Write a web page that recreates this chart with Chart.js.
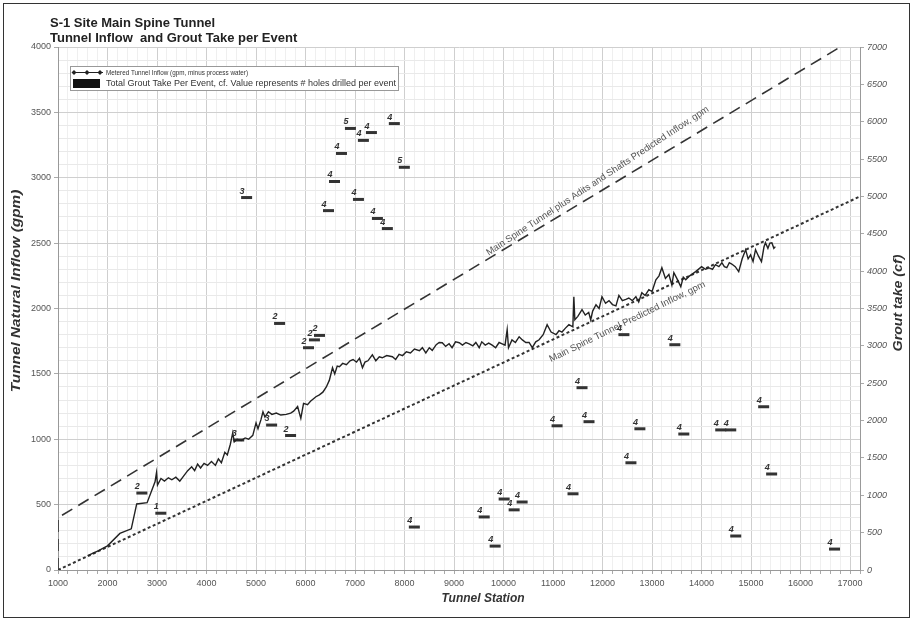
<!DOCTYPE html>
<html>
<head>
<meta charset="utf-8">
<script src="https://cdn.jsdelivr.net/npm/chart.js@4.4.1/dist/chart.umd.min.js"></script>
<style>
  html, body { margin: 0; padding: 0; background: #fff; }
  #wrap { position: relative; width: 913px; height: 621px; }
  #frame { position: absolute; left: 3px; top: 3px; width: 905px; height: 613px; border: 1px solid #333; pointer-events: none; }
</style>
</head>
<body>
<div id="wrap">
  <canvas id="chart" width="913" height="621"></canvas>
  <div id="frame"></div>
</div>
<script>
// metered tunnel inflow (gpm) by tunnel station
const inflowStation = [1600, 1800, 2000, 2250, 2480, 2590, 2800, 2960, 2990, 3010, 3080, 3150, 3230, 3300, 3380, 3460, 3540, 3620, 3700, 3760,
  3820, 3880, 3950, 4020, 4100, 4180, 4240, 4300, 4370, 4420, 4480, 4530, 4560, 4620, 4700, 4780, 4850, 4935, 5000, 5040,
  5100, 5140, 5180, 5250, 5320, 5410, 5500, 5610, 5700, 5760, 5840, 5905, 5960, 6040, 6100, 6210, 6280, 6350, 6420, 6480,
  6545, 6590, 6640, 6685, 6750, 6825, 6900, 6960, 7030, 7090, 7150, 7200, 7260, 7350, 7420, 7490, 7550, 7640, 7755, 7820,
  7890, 7960, 8036, 8120, 8200, 8300, 8360, 8430, 8500, 8560, 8640, 8700, 8762, 8830, 8900, 8960, 9030, 9105, 9170, 9240,
  9306, 9380, 9440, 9508, 9560, 9630, 9700, 9770, 9840, 9910, 9972, 10030, 10073, 10100, 10170, 10240, 10315, 10380, 10450, 10516,
  10580, 10650, 10718, 10800, 10880, 10960, 11060, 11120, 11180, 11250, 11320, 11400, 11420, 11440, 11500, 11585, 11650, 11720, 11760, 11800,
  11867, 11930, 11988, 12060, 12130, 12200, 12270, 12330, 12400, 12470, 12530, 12600, 12673, 12730, 12793, 12860, 12935, 13000, 13077, 13140,
  13198, 13270, 13340, 13400, 13440, 13500, 13580, 13630, 13680, 13760, 13880, 14000, 14080, 14150, 14220, 14280, 14350, 14410, 14460, 14510,
  14560, 14610, 14680, 14750, 14820, 14890, 14940, 14990, 15040, 15090, 15150, 15210, 15260, 15290, 15340, 15380, 15420, 15460, 15490];
const inflowGpm = [110, 145, 185, 280, 315, 505, 515, 675, 745, 650, 700, 680, 705, 690, 710, 680, 720, 760, 790, 760,
  810, 780, 815, 800, 830, 800, 850, 820, 900, 880, 960, 1050, 980, 1000, 990, 1010, 1000, 1030, 1125, 1080,
  1150, 1210, 1170, 1210, 1190, 1200, 1185, 1190, 1200, 1215, 1250, 1160, 1275, 1265, 1290, 1325, 1340, 1360, 1400, 1450,
  1547, 1500, 1560, 1555, 1580, 1570, 1600, 1610, 1590, 1620, 1547, 1590, 1600, 1646, 1600, 1630, 1623, 1640, 1631, 1610,
  1650, 1640, 1669, 1660, 1690, 1677, 1700, 1660, 1700, 1680, 1723, 1740, 1738, 1710, 1730, 1700, 1745, 1738, 1720, 1740,
  1730, 1715, 1740, 1700, 1745, 1720, 1735, 1720, 1700, 1740, 1730, 1720, 1838, 1700, 1760, 1740, 1784, 1760, 1740, 1740,
  1700, 1745, 1761, 1800, 1876, 1820, 1800, 1830, 1820, 1850, 1876, 1860, 2090, 1914, 1940, 1991, 1950, 1970, 1914, 1980,
  2029, 2000, 2090, 2040, 2060, 2030, 2020, 2100, 2060, 2070, 2080, 2060, 2090, 2050, 2121, 2100, 2144, 2130, 2220, 2250,
  2312, 2230, 2260, 2180, 2274, 2230, 2167, 2240, 2220, 2250, 2282, 2320, 2300, 2310, 2300, 2335, 2320, 2350, 2320, 2312,
  2350, 2340, 2320, 2282, 2380, 2450, 2380, 2410, 2360, 2450, 2400, 2358, 2470, 2503, 2460, 2500, 2503, 2460, 2473];

// predicted inflow lines (gpm)
const aditsStation = [1000, 1000, 16800];
const aditsGpm = [0, 400, 4000];
const spineStation = [1000, 17200];
const spineGpm = [0, 2857];

// grout take per event (cf) and number of holes drilled
const groutStation = [2694, 3077, 4650, 4810, 5315, 5476, 5698, 6060, 6180, 6282, 6464, 6585, 6726, 6907, 7069, 7169, 7331, 7452, 7653, 7794,
  7996, 8198, 9609, 9830, 10012, 10214, 10375, 11081, 11403, 11585, 11726, 12431, 12573, 12754, 13460, 13641, 14387, 14589, 14690, 15254,
  15415, 16685];
const groutCf = [1030, 760, 1740, 4985, 1940, 3300, 1800, 2975, 3080, 3140, 4810, 5200, 5575, 5910, 4960, 5750, 5855, 4705, 4570, 5975,
  5390, 575, 710, 320, 950, 805, 910, 1930, 1020, 2440, 1985, 3150, 1435, 1890, 3015, 1820, 1875, 1875, 455, 2185,
  1285, 280];
const groutHoles = [2, 1, 3, 3, 3, 2, 2, 2, 2, 2, 4, 4, 4, 5, 4, 4, 4, 4, 4, 4,
  5, 4, 4, 4, 4, 4, 4, 4, 4, 4, 4, 4, 4, 4, 4, 4, 4, 4, 4, 4,
  4, 4];

const FONT = '"Liberation Sans", Arial, sans-serif';
Chart.defaults.font.family = FONT;
Chart.defaults.color = '#555';

const toXY = (xs, ys) => xs.map((x, i) => ({ x: x, y: ys[i] }));

const extras = {
  id: 'extras',
  afterDraw(chart) {
    const ctx = chart.ctx;
    const xs = chart.scales.x, ys = chart.scales.y;
    ctx.save();

    // title
    ctx.fillStyle = '#222';
    ctx.font = 'bold 13px ' + FONT;
    ctx.textBaseline = 'middle';
    ctx.textAlign = 'left';
    ctx.fillText('S-1 Site Main Spine Tunnel', 50, 23);
    ctx.fillText('Tunnel Inflow  and Grout Take per Event', 50, 38);

    // legend
    ctx.fillStyle = '#fff';
    ctx.fillRect(70.5, 66.5, 328, 24);
    ctx.strokeStyle = '#999';
    ctx.lineWidth = 1;
    ctx.strokeRect(70.5, 66.5, 328, 24);
    ctx.strokeStyle = '#222';
    ctx.beginPath();
    ctx.moveTo(72, 72.5);
    ctx.lineTo(103, 72.5);
    ctx.stroke();
    ctx.fillStyle = '#222';
    [74, 87, 100].forEach(px => {
      ctx.beginPath();
      ctx.moveTo(px, 70); ctx.lineTo(px + 2.5, 72.5); ctx.lineTo(px, 75); ctx.lineTo(px - 2.5, 72.5);
      ctx.closePath();
      ctx.fill();
    });
    ctx.fillStyle = '#111';
    ctx.fillRect(73, 79, 27, 9);
    ctx.fillStyle = '#333';
    ctx.font = '7.5px ' + FONT;
    ctx.fillText('Metered Tunnel Inflow (gpm, minus process water)', 106, 72.5, 142);
    ctx.font = '9px ' + FONT;
    ctx.fillText('Total Grout Take Per Event, cf. Value represents # holes drilled per event', 106, 84, 292);

    // labels along the predicted lines
    const lineLabel = (sx, sy, station, text, dy, tilt) => {
      const n = sx.length - 1;
      const x1 = xs.getPixelForValue(sx[n - 1]), y1 = ys.getPixelForValue(sy[n - 1]);
      const x2 = xs.getPixelForValue(sx[n]), y2 = ys.getPixelForValue(sy[n]);
      const ang = Math.atan2(y2 - y1, x2 - x1) - tilt;
      const px = xs.getPixelForValue(station);
      const py = y1 + (px - x1) * (y2 - y1) / (x2 - x1);
      ctx.save();
      ctx.translate(px, py + dy);
      ctx.rotate(ang);
      ctx.fillStyle = '#555';
      ctx.font = '9.5px ' + FONT;
      ctx.textAlign = 'center';
      ctx.textBaseline = 'middle';
      ctx.fillText(text, 0, 0);
      ctx.restore();
    };
    lineLabel(aditsStation, aditsGpm, 11900, 'Main Spine Tunnel plus Adits and Shafts Predicted Inflow, gpm', -12, 0.04);
    lineLabel(spineStation, spineGpm, 12500, 'Main Spine Tunnel Predicted Inflow, gpm', 17, 0.02);

    // hole counts next to the grout marks
    const meta = chart.getDatasetMeta(3);
    ctx.fillStyle = '#333';
    ctx.font = 'italic bold 9px ' + FONT;
    ctx.textAlign = 'left';
    ctx.textBaseline = 'alphabetic';
    meta.data.forEach((pt, i) => {
      ctx.fillText(String(groutHoles[i]), pt.x - 7, pt.y - 4);
    });

    // axis titles
    ctx.fillStyle = '#333';
    ctx.textAlign = 'center';
    ctx.textBaseline = 'middle';
    ctx.font = 'italic bold 12px ' + FONT;
    ctx.fillText('Tunnel Station', 483, 599);
    ctx.save();
    ctx.translate(16, 291);
    ctx.rotate(-Math.PI / 2);
    ctx.scale(1.18, 1);
    ctx.font = 'italic bold 13px ' + FONT;
    ctx.fillText('Tunnel Natural Inflow (gpm)', 0, 0);
    ctx.restore();
    ctx.save();
    ctx.translate(899, 303);
    ctx.rotate(-Math.PI / 2);
    ctx.scale(1.18, 1);
    ctx.font = 'italic bold 12px ' + FONT;
    ctx.fillText('Grout take (cf)', 0, 0);
    ctx.restore();

    ctx.restore();
  }
};

new Chart(document.getElementById('chart'), {
  type: 'scatter',
  data: {
    datasets: [
      {
        label: 'Metered Tunnel Inflow (gpm, minus process water)',
        data: toXY(inflowStation, inflowGpm),
        showLine: true,
        borderColor: '#222',
        borderWidth: 1.4,
        pointRadius: 0,
        yAxisID: 'y'
      },
      {
        label: 'Main Spine Tunnel plus Adits and Shafts Predicted Inflow, gpm',
        data: toXY(aditsStation, aditsGpm),
        showLine: true,
        borderColor: '#333',
        borderWidth: 1.6,
        borderDash: [12, 7],
        pointRadius: 0,
        yAxisID: 'y'
      },
      {
        label: 'Main Spine Tunnel Predicted Inflow, gpm',
        data: toXY(spineStation, spineGpm),
        showLine: true,
        borderColor: '#333',
        borderWidth: 2,
        borderDash: [3, 2.5],
        pointRadius: 0,
        yAxisID: 'y'
      },
      {
        label: 'Total Grout Take Per Event, cf.',
        data: toXY(groutStation, groutCf),
        showLine: false,
        pointStyle: 'line',
        pointRadius: 5.5,
        borderWidth: 3,
        borderColor: '#333',
        backgroundColor: '#333',
        yAxisID: 'y2'
      }
    ]
  },
  options: {
    responsive: false,
    animation: false,
    layout: { padding: { left: 0, right: 0, top: 47, bottom: 0 } },
    plugins: {
      legend: { display: false },
      tooltip: { enabled: false },
      title: { display: false }
    },
    scales: {
      x: {
        type: 'linear',
        min: 1000,
        max: 17200,
        afterFit: s => { s.height = 51; },
        ticks: {
          stepSize: 200,
          autoSkip: false,
          maxRotation: 0,
          padding: 4,
          font: { size: 9 },
          color: '#555',
          callback: v => (v % 1000 === 0 && v <= 17000) ? String(v) : ''
        },
        grid: {
          color: c => (c.tick && c.tick.value % 1000 === 0) ? '#cfcfcf' : '#efefef',
          tickColor: '#aaa',
          tickLength: 4
        },
        border: { color: '#999' }
      },
      y: {
        position: 'left',
        min: 0,
        max: 4000,
        afterFit: s => { s.width = 58; },
        ticks: {
          stepSize: 100,
          autoSkip: false,
          padding: 3,
          font: { size: 9 },
          color: '#555',
          callback: v => (v % 500 === 0) ? String(v) : ''
        },
        grid: {
          color: c => (c.tick && c.tick.value % 500 === 0) ? '#cfcfcf' : '#e9e9e9',
          tickColor: c => (c.tick && c.tick.value % 500 === 0) ? '#aaa' : 'rgba(0,0,0,0)',
          tickLength: 4
        },
        border: { color: '#999' }
      },
      y2: {
        position: 'right',
        min: 0,
        max: 7000,
        afterFit: s => { s.width = 53; },
        ticks: {
          stepSize: 500,
          padding: 3,
          font: { size: 9, style: 'italic' },
          color: '#555',
          callback: v => String(v)
        },
        grid: { drawOnChartArea: false, tickColor: '#aaa', tickLength: 4 },
        border: { color: '#999' }
      }
    }
  },
  plugins: [extras]
});
</script>
</body>
</html>
